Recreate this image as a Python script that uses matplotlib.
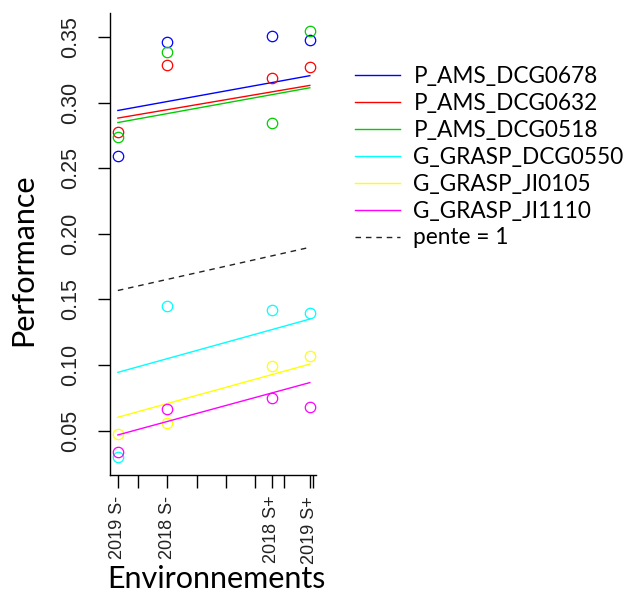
import matplotlib
matplotlib.use("Agg")
import matplotlib.pyplot as plt
import numpy as np

# environment positions (environment mean performance) and labels
env_labels = ["2019 S-", "2018 S-", "2018 S+", "2019 S+"]
env_x = [0.1515, 0.1600, 0.1779, 0.1844]

genotypes = ["P_AMS_DCG0678", "P_AMS_DCG0632", "P_AMS_DCG0518",
             "G_GRASP_DCG0550", "G_GRASP_JI0105", "G_GRASP_JI1110"]
colors = ["#0000FF", "#FF0000", "#00CD00", "#00FFFF", "#FFFF00", "#FF00FF"]

# observed performance per genotype, in env order
perf_dcg0678 = [0.2596, 0.3459, 0.3510, 0.3480]
perf_dcg0632 = [0.2777, 0.3289, 0.3184, 0.3268]
perf_dcg0518 = [0.2734, 0.3382, 0.2848, 0.3543]
perf_dcg0550 = [0.0302, 0.1447, 0.1421, 0.1393]
perf_ji0105 = [0.0472, 0.0561, 0.0994, 0.1065]
perf_ji1110 = [0.0335, 0.0668, 0.0752, 0.0679]
perfs = [perf_dcg0678, perf_dcg0632, perf_dcg0518,
         perf_dcg0550, perf_ji0105, perf_ji1110]

# fitted line at first and last environment
fit_first = [0.2940, 0.2882, 0.2848, 0.0944, 0.0602, 0.0467]
fit_last = [0.3205, 0.3131, 0.3113, 0.1350, 0.1007, 0.0866]

pente_intercept = 0.0053

fig = plt.figure(figsize=(6.26, 6.01), dpi=100)
ax = fig.add_axes([0.1757, 0.2097, 0.3291, 0.7687])

line_x = [env_x[0], env_x[-1]]
for name, col, p, f0, f1 in zip(genotypes, colors, perfs, fit_first, fit_last):
    ax.plot(env_x, p, linestyle="none", marker="o", markersize=7.5,
            markerfacecolor="none", markeredgecolor=col, markeredgewidth=0.9)
    ax.plot(line_x, [f0, f1], color=col, linewidth=1.0, label=name)

ax.plot(line_x, np.array(line_x) + pente_intercept, color="#222222",
        linestyle=(0, (4, 3.5)), linewidth=1.0, label="pente = 1")

ax.set_xlim(0.15015, 0.18546)
ax.set_ylim(0.0162, 0.3683)
for s in ["top", "right"]:
    ax.spines[s].set_visible(False)
for s in ["left", "bottom"]:
    ax.spines[s].set_linewidth(1.0)

ax.set_yticks(np.arange(0.05, 0.351, 0.05))
ax.set_yticklabels(["%.2f" % v for v in np.arange(0.05, 0.351, 0.05)],
                   rotation=90, va="center", fontsize=15.5, family="Liberation Sans",
                   color="#222222")
ax.set_xticks(env_x)
ax.set_xticklabels(env_labels, rotation=90, fontsize=13, family="Liberation Sans",
                   color="#222222")
ax.set_xticks(np.arange(0.155, 0.1851, 0.005), minor=True)
ax.tick_params(axis="both", which="both", direction="out", length=9, width=1.0)
ax.tick_params(axis="y", pad=12)
ax.tick_params(axis="x", pad=6)

ax.set_xlabel("Environnements", fontsize=22, family="Lato")
ax.xaxis.set_label_coords(0.515, -0.195)
ax.set_ylabel("Performance", fontsize=22, family="Lato")
ax.yaxis.set_label_coords(-0.355, 0.465)

fig.legend(loc="upper left", bbox_to_anchor=(0.552, 0.905), frameon=False,
           prop={"family": "Lato", "size": 16.3}, handlelength=2.0,
           handletextpad=0.6, labelspacing=0.26, borderaxespad=0)

fig.savefig("out.png", dpi=100)
